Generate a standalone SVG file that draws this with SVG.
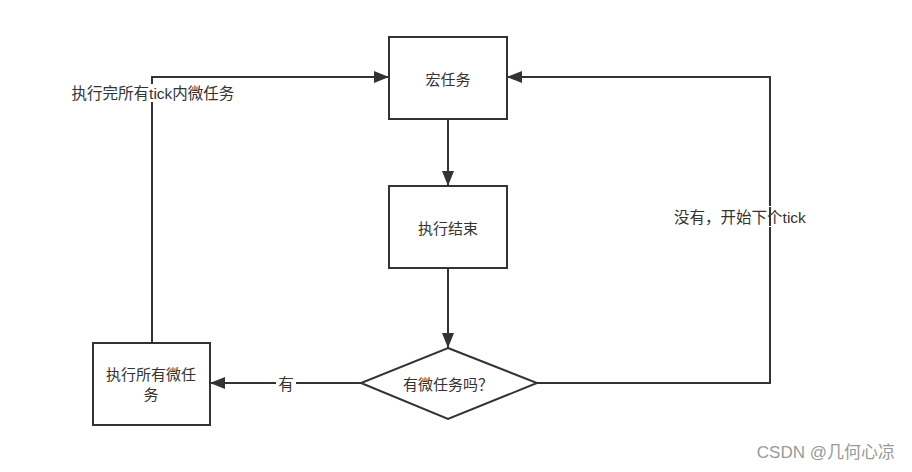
<svg xmlns="http://www.w3.org/2000/svg" width="912" height="472" viewBox="0 0 912 472">
<style>
.box{fill:#fff;stroke:#333;stroke-width:2}
.ln{fill:none;stroke:#333;stroke-width:2}
.t{font-family:"Liberation Sans","Noto Sans CJK SC",sans-serif;font-size:15px;fill:#333;text-anchor:middle;dominant-baseline:central}
.lbl{font-family:"Liberation Sans","Noto Sans CJK SC",sans-serif;font-size:15.5px;fill:#333;text-anchor:middle;dominant-baseline:central}
</style>
<defs>
<marker id="ah" markerWidth="15" markerHeight="12" refX="15" refY="6" orient="auto" markerUnits="userSpaceOnUse">
<path d="M0,0 L15,6 L0,12 Z" fill="#333"/>
</marker>
</defs>
<rect width="912" height="472" fill="#fff"/>
<g id="connectors">
<path class="ln" d="M448,119 L448,186" marker-end="url(#ah)"/>
<path class="ln" d="M448,268 L448,348" marker-end="url(#ah)"/>
<path class="ln" d="M361,383 L210,383" marker-end="url(#ah)"/>
<path class="ln" d="M152,343 L152,77 L389,77" marker-end="url(#ah)"/>
<path class="ln" d="M537,383 L770,383 L770,77 L507,77" marker-end="url(#ah)"/>
</g>
<g id="labels">
<rect x="276" y="375" width="20" height="17" fill="#fff"/>
<text class="lbl" x="286" y="384">有</text>
<rect x="60" y="84" width="188" height="18" fill="#fff"/>
<text class="lbl" x="153" y="93">执行完所有tick内微任务</text>
<rect x="672" y="206" width="136" height="21" fill="#fff"/>
<text class="lbl" x="740" y="217">没有，开始下个tick</text>
<path class="ln" d="M770,207 L770,226" stroke-width="1.5"/>
</g>
<g id="macro">
<rect class="box" x="389" y="37" width="118" height="82"/>
<text class="t" x="448" y="79">宏任务</text>
</g>
<g id="end">
<rect class="box" x="389" y="186" width="118" height="82"/>
<text class="t" x="448" y="228">执行结束</text>
</g>
<g id="decision">
<polygon class="box" points="448,348 537,383 448,419 361,383"/>
<text class="t" x="448" y="384">有微任务吗？</text>
</g>
<g id="micro">
<rect class="box" x="93" y="343" width="117" height="82"/>
<text class="t" x="151" y="374">执行所有微任</text>
<text class="t" x="151" y="394">务</text>
</g>
<text x="895" y="452" font-family="Liberation Sans,Noto Sans CJK SC,sans-serif" font-size="17" fill="#999" text-anchor="end" dominant-baseline="central">CSDN @几何心凉</text>
</svg>
